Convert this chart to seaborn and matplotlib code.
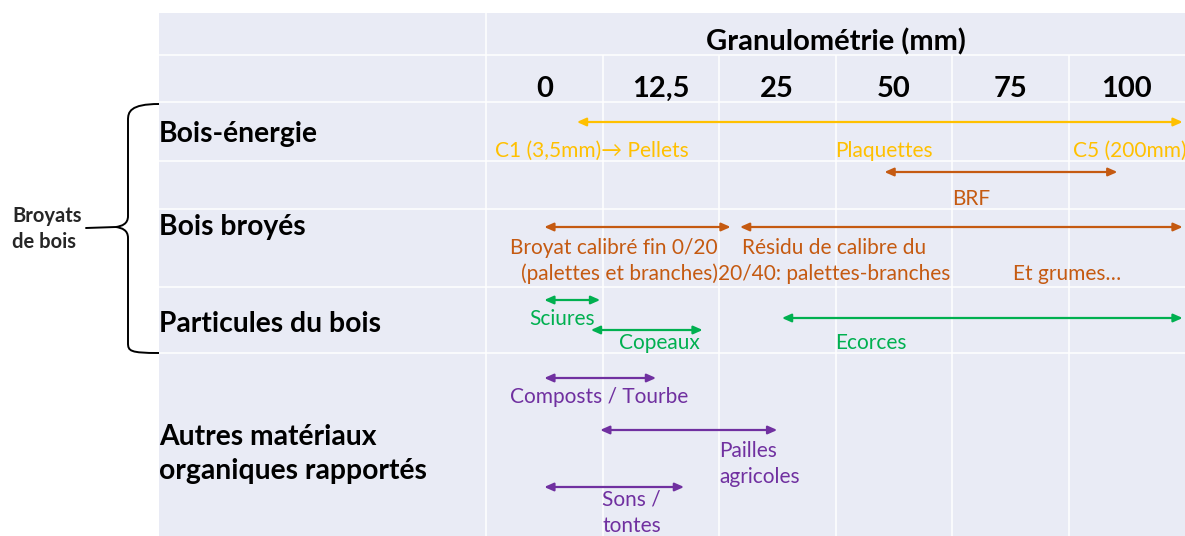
import numpy as np
import matplotlib
matplotlib.use("Agg")
import matplotlib.pyplot as plt
from matplotlib.path import Path
from matplotlib.patches import PathPatch
import seaborn as sns

# granulometrie (mm) : une colonne par valeur, echelle non lineaire
ticks_mm = [0, 12.5, 25, 50, 75, 100]
tick_labels = ["0", "12,5", "25", "50", "75", "100"]

row_labels = ["Bois-énergie", "Bois broyés", "Particules du bois",
              "Autres matériaux\norganiques rapportés"]

# gammes de granulometrie (mm) ; 112 = la fleche sort du tableau
range_group = ["energie", "broyes", "broyes", "broyes",
               "particules", "particules", "particules",
               "autres", "autres", "autres"]
range_start = [3.5, 48, 0, 21, 0, 5, 26, 0, 6, 0]
range_end = [112, 98, 20, 112, 6, 17, 112, 12, 25, 15]

label_texts = ["C1 (3,5mm)→ Pellets", "Plaquettes", "C5 (200mm)", "BRF",
               "Broyat calibré fin 0/20\n(palettes et branches)",
               "Résidu de calibre du\n20/40: palettes-branches",
               "Et grumes…", "Sciures", "Copeaux", "Ecorces",
               "Composts / Tourbe", "Pailles\nagricoles", "Sons /\ntontes"]
label_group = ["energie", "energie", "energie", "broyes", "broyes", "broyes",
               "broyes", "particules", "particules", "particules",
               "autres", "autres", "autres"]

colors = {"energie": "#FFC000", "broyes": "#C55A11",
          "particules": "#00B050", "autres": "#7030A0"}

# mise en page (pixels de l'image, origine en haut)
W, H = 1185, 536
arrow_y = [122, 172, 227, 227, 300, 330, 318, 378, 430, 487]
label_x = [-5.3, 37.4, 88.5, 62.5, 18.6, 37.2, 75.6, 1.9, 8.0, 37.4, -3.7, 18.75, 6.2]
label_ha = ["left", "left", "left", "left", "right", "center", "left",
            "center", "left", "left", "left", "left", "left"]
label_y = [157, 157, 157, 205, 254, 254, 280, 325, 349, 349, 403, 457, 506]
row_y = [142, 235, 332, 445]
row_lines = [55, 102, 161, 209, 287, 353]

# echelle : mm -> indice de colonne
mm_knots = [-100, 0, 12.5, 25, 50, 75, 100, 200]
col_knots = [-7.5, 0.5, 1.5, 2.5, 3.5, 4.5, 5.5, 9.5]


def fwd(x):
    return np.interp(x, mm_knots, col_knots)


def inv(c):
    return np.interp(c, col_knots, mm_knots)


sns.set_theme(style="white", rc={"axes.facecolor": "#E9EBF5"})
plt.rcParams["font.family"] = ["Lato", "DejaVu Sans"]

fig = plt.figure(figsize=(W / 100, H / 100), dpi=100)
ax = fig.add_axes([159 / W, 0, (W - 159) / W, (H - 13) / H])
ax.set_xscale("function", functions=(fwd, inv))
ax.set_xlim(inv((159 - 486) / 116.5), inv((W - 486) / 116.5))
ax.set_ylim(H, 13)
ax.set_xticks([])
ax.set_yticks([])
sns.despine(ax=ax, left=True, bottom=True)

# grille blanche
for yl in row_lines:
    ax.axhline(yl, color="white", lw=1.1)
ax.vlines(inv(0), 13, H, color="white", lw=1.1)
ax.vlines([inv(k) for k in range(1, 6)], 55, H, color="white", lw=1.1)

ax.text(inv(3.0), 50, "Granulométrie (mm)", ha="center", va="baseline",
        fontsize=21, fontweight="bold", color="black")
for t, lab in zip(ticks_mm, tick_labels):
    ax.text(t, 97, lab, ha="center", va="baseline", fontsize=21,
            fontweight="bold", color="black")

x_left = ax.get_xlim()[0]
for lab, yb in zip(row_labels, row_y):
    for i, line in enumerate(lab.split("\n")):
        ax.text(x_left, yb + i * 34, line, ha="left", va="baseline",
                fontsize=20.3, fontweight="bold", color="black")

for g, x0, x1, yy in zip(range_group, range_start, range_end, arrow_y):
    ax.annotate("", xy=(x1, yy), xytext=(x0, yy),
                arrowprops=dict(arrowstyle="<|-|>,head_length=0.45,head_width=0.2",
                                color=colors[g], lw=1.6, mutation_scale=12,
                                shrinkA=0, shrinkB=0))

for txt, g, xx, yy, ha in zip(label_texts, label_group, label_x, label_y, label_ha):
    for i, line in enumerate(txt.split("\n")):
        ax.text(xx, yy + i * 26, line, ha=ha, va="baseline", fontsize=15,
                color=colors[g], clip_on=False)

# accolade "Broyats de bois"
def fp(x, y):
    return (x / W, 1 - y / H)


verts = [fp(159, 104), fp(130, 104), fp(128, 112), fp(128, 120),
         fp(128, 216),
         fp(128, 224), fp(122, 226), fp(116, 227),
         fp(122, 228), fp(128, 230), fp(128, 238),
         fp(128, 343),
         fp(128, 351), fp(130, 353), fp(159, 353)]
codes = [Path.MOVETO, Path.CURVE4, Path.CURVE4, Path.CURVE4,
         Path.LINETO,
         Path.CURVE4, Path.CURVE4, Path.CURVE4,
         Path.CURVE4, Path.CURVE4, Path.CURVE4,
         Path.LINETO,
         Path.CURVE4, Path.CURVE4, Path.CURVE4]
fig.patches.append(PathPatch(Path(verts, codes), transform=fig.transFigure,
                             fill=False, lw=1.4, color="black"))
fig.add_artist(plt.Line2D([86 / W, 116 / W], [1 - 228 / H, 1 - 227 / H],
                          transform=fig.transFigure, color="black", lw=1.4))
fig.text(12 / W, 1 - 222 / H, "Broyats", ha="left", va="baseline",
         fontsize=14.5, fontweight="bold")
fig.text(12 / W, 1 - 248 / H, "de bois", ha="left", va="baseline",
         fontsize=14.5, fontweight="bold")

fig.savefig("out.png", dpi=100, facecolor="white")
